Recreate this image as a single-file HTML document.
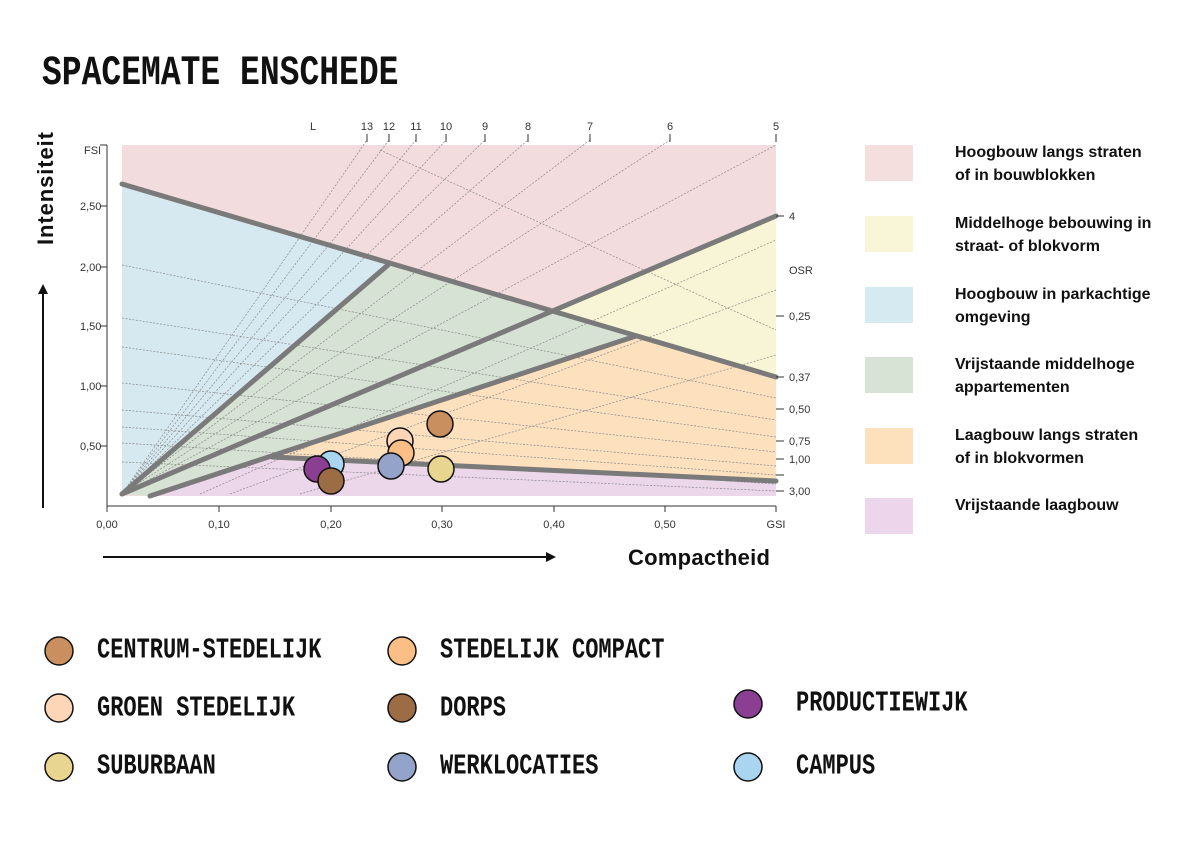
<!DOCTYPE html>
<html><head><meta charset="utf-8"><style>
body{margin:0;background:#fff;width:1191px;height:842px;overflow:hidden;position:relative;font-family:"Liberation Sans",sans-serif}
.m{position:absolute;font-family:"Liberation Mono",monospace;font-weight:bold;color:#111;transform-origin:0 50%;white-space:nowrap}
.lg{position:absolute;left:955px;font-weight:bold;font-size:16px;line-height:23px;color:#111}
.bx{position:absolute;left:865px;width:48px;height:36px}
</style></head><body>
<div class="m" style="left:42px;top:56px;font-size:33px;line-height:36px;transform:scaleY(1.25)">SPACEMATE ENSCHEDE</div>
<svg width="1191" height="842" style="position:absolute;left:0;top:0" font-family="Liberation Sans, sans-serif">
<rect x="122" y="145" width="654" height="351" fill="#f3dcdd"/>
<polygon points="122,185 388,264 122,494" fill="#d6e9f0"/>
<polygon points="122,494 388,264 636,336 150,496" fill="#d6e2d4"/>
<polygon points="553,313 776,216 776,377" fill="#f8f5d6"/>
<polygon points="636,336 776,377 776,481 272,457 150,496" fill="#fde1bf"/>
<polygon points="150,496 272,456 776,481 776,496" fill="#ecd6ea"/>
<g stroke="#888" stroke-width="0.7" stroke-dasharray="2,1.5" fill="none">
<line x1="122" y1="494" x2="367" y2="140"/><line x1="122" y1="494" x2="389" y2="140"/>
<line x1="122" y1="494" x2="416" y2="140"/><line x1="122" y1="494" x2="446" y2="140"/>
<line x1="122" y1="494" x2="485" y2="140"/><line x1="122" y1="494" x2="528" y2="140"/>
<line x1="122" y1="494" x2="590" y2="140"/><line x1="122" y1="494" x2="670" y2="140"/>
<line x1="122" y1="494" x2="776" y2="145"/>
<path d="M380,150 Q600,250 776,330"/>
<line x1="122" y1="265" x2="776" y2="398"/><line x1="122" y1="318" x2="776" y2="420"/>
<line x1="122" y1="347" x2="776" y2="437"/><line x1="122" y1="383" x2="776" y2="452"/>
<line x1="122" y1="410" x2="776" y2="466"/><line x1="122" y1="427" x2="776" y2="475"/>
<line x1="122" y1="443" x2="776" y2="484"/><line x1="122" y1="462" x2="776" y2="491"/>
<line x1="230" y1="494" x2="776" y2="290"/><line x1="300" y1="494" x2="776" y2="355"/>
<line x1="200" y1="494" x2="776" y2="240"/>
</g>
<g stroke="#7a7a7a" stroke-width="5" stroke-linecap="round">
<line x1="122" y1="184" x2="776" y2="377"/>
<line x1="122" y1="494" x2="388" y2="265"/>
<line x1="150" y1="496" x2="636" y2="336"/>
<line x1="122" y1="494" x2="776" y2="216"/>
<line x1="272" y1="457" x2="776" y2="481"/>
</g>
<g stroke="#333" stroke-width="1">
<line x1="107" y1="145" x2="107" y2="506"/><line x1="107" y1="506" x2="776" y2="506"/>
<line x1="100" y1="145" x2="107" y2="145"/><line x1="100" y1="206" x2="107" y2="206"/><line x1="100" y1="267" x2="107" y2="267"/><line x1="100" y1="326" x2="107" y2="326"/><line x1="100" y1="386" x2="107" y2="386"/><line x1="100" y1="446" x2="107" y2="446"/>
<line x1="107" y1="506" x2="107" y2="512"/><line x1="219" y1="506" x2="219" y2="512"/><line x1="331" y1="506" x2="331" y2="512"/><line x1="442" y1="506" x2="442" y2="512"/><line x1="554" y1="506" x2="554" y2="512"/><line x1="665" y1="506" x2="665" y2="512"/><line x1="776" y1="506" x2="776" y2="512"/>
<line x1="776" y1="216" x2="784" y2="216"/><line x1="776" y1="316" x2="784" y2="316"/><line x1="776" y1="377" x2="784" y2="377"/><line x1="776" y1="409" x2="784" y2="409"/><line x1="776" y1="441" x2="784" y2="441"/><line x1="776" y1="459" x2="784" y2="459"/><line x1="776" y1="475" x2="784" y2="475"/><line x1="776" y1="491" x2="784" y2="491"/>
<line x1="367" y1="134" x2="367" y2="142"/><line x1="389" y1="134" x2="389" y2="142"/><line x1="416" y1="134" x2="416" y2="142"/><line x1="446" y1="134" x2="446" y2="142"/><line x1="485" y1="134" x2="485" y2="142"/><line x1="528" y1="134" x2="528" y2="142"/><line x1="590" y1="134" x2="590" y2="142"/><line x1="670" y1="134" x2="670" y2="142"/><line x1="776" y1="134" x2="776" y2="142"/>
</g>
<g font-size="11" fill="#333">
<text x="84" y="154">FSI</text><text x="80" y="210">2,50</text><text x="80" y="271">2,00</text><text x="80" y="330">1,50</text><text x="80" y="390">1,00</text><text x="80" y="450">0,50</text>
<g text-anchor="middle"><text x="107" y="528">0,00</text><text x="219" y="528">0,10</text><text x="331" y="528">0,20</text><text x="442" y="528">0,30</text><text x="554" y="528">0,40</text><text x="665" y="528">0,50</text><text x="776" y="528">GSI</text>
<text x="313" y="130">L</text><text x="367" y="130">13</text><text x="389" y="130">12</text><text x="416" y="130">11</text><text x="446" y="130">10</text><text x="485" y="130">9</text><text x="528" y="130">8</text><text x="590" y="130">7</text><text x="670" y="130">6</text><text x="776" y="130">5</text></g>
<text x="789" y="220">4</text><text x="789" y="274">OSR</text><text x="789" y="320">0,25</text><text x="789" y="381">0,37</text><text x="789" y="413">0,50</text><text x="789" y="445">0,75</text><text x="789" y="463">1,00</text><text x="789" y="495">3,00</text>
</g>
<g stroke="#111" stroke-width="1.5">
<circle cx="440" cy="424" r="13" fill="#c98f5e"/><circle cx="400" cy="441" r="13" fill="#fcd6b6"/><circle cx="401" cy="453" r="13" fill="#fbbf85"/><circle cx="441" cy="469" r="13" fill="#e8d690"/><circle cx="391" cy="466" r="13" fill="#93a3c9"/><circle cx="331" cy="464" r="13" fill="#a9d5f0"/><circle cx="317" cy="469" r="13" fill="#8b3f93"/><circle cx="331" cy="481" r="13" fill="#9c6d45"/>
<circle cx="59" cy="651" r="14" fill="#c98f5e"/><circle cx="402" cy="651" r="14" fill="#fbbf85"/><circle cx="59" cy="708" r="14" fill="#fcd6b6"/><circle cx="402" cy="708" r="14" fill="#9c6d45"/><circle cx="748" cy="704" r="14" fill="#8b3f93"/><circle cx="59" cy="767" r="14" fill="#e8d690"/><circle cx="402" cy="767" r="14" fill="#93a3c9"/><circle cx="748" cy="767" r="14" fill="#a9d5f0"/>
</g>
<g stroke="#111" stroke-width="2" fill="#111">
<line x1="43" y1="508" x2="43" y2="292"/><polygon points="38,294 48,294 43,284" stroke="none"/>
<line x1="103" y1="557" x2="548" y2="557"/><polygon points="546,552 546,562 556,557" stroke="none"/>
</g>
<text x="628" y="565" font-size="22" font-weight="bold" fill="#111" textLength="142">Compactheid</text>
<text transform="translate(53,245) rotate(-90)" font-size="22" font-weight="bold" fill="#111" textLength="113">Intensiteit</text>
</svg>
<div class="bx" style="top:145px;background:#f5dede"></div><div class="bx" style="top:216px;background:#f8f6d6"></div><div class="bx" style="top:287px;background:#d6eaf1"></div><div class="bx" style="top:357px;background:#d7e3d5"></div><div class="bx" style="top:428px;background:#fde1bd"></div><div class="bx" style="top:498px;background:#edd6eb"></div>
<div class="lg" style="top:141px">Hoogbouw langs straten<br>of in bouwblokken</div>
<div class="lg" style="top:212px">Middelhoge bebouwing in<br>straat- of blokvorm</div>
<div class="lg" style="top:283px">Hoogbouw in parkachtige<br>omgeving</div>
<div class="lg" style="top:353px">Vrijstaande middelhoge<br>appartementen</div>
<div class="lg" style="top:424px">Laagbouw langs straten<br>of in blokvormen</div>
<div class="lg" style="top:494px">Vrijstaande laagbouw</div>
<div class="m" style="left:97px;top:638px;font-size:22px;line-height:26px;transform:scaleY(1.3)">CENTRUM-STEDELIJK</div>
<div class="m" style="left:440px;top:638px;font-size:22px;line-height:26px;transform:scaleY(1.3)">STEDELIJK COMPACT</div>
<div class="m" style="left:97px;top:696px;font-size:22px;line-height:26px;transform:scaleY(1.3)">GROEN STEDELIJK</div>
<div class="m" style="left:440px;top:696px;font-size:22px;line-height:26px;transform:scaleY(1.3)">DORPS</div>
<div class="m" style="left:796px;top:691px;font-size:22px;line-height:26px;transform:scaleY(1.3)">PRODUCTIEWIJK</div>
<div class="m" style="left:97px;top:754px;font-size:22px;line-height:26px;transform:scaleY(1.3)">SUBURBAAN</div>
<div class="m" style="left:440px;top:754px;font-size:22px;line-height:26px;transform:scaleY(1.3)">WERKLOCATIES</div>
<div class="m" style="left:796px;top:754px;font-size:22px;line-height:26px;transform:scaleY(1.3)">CAMPUS</div>
</body></html>
